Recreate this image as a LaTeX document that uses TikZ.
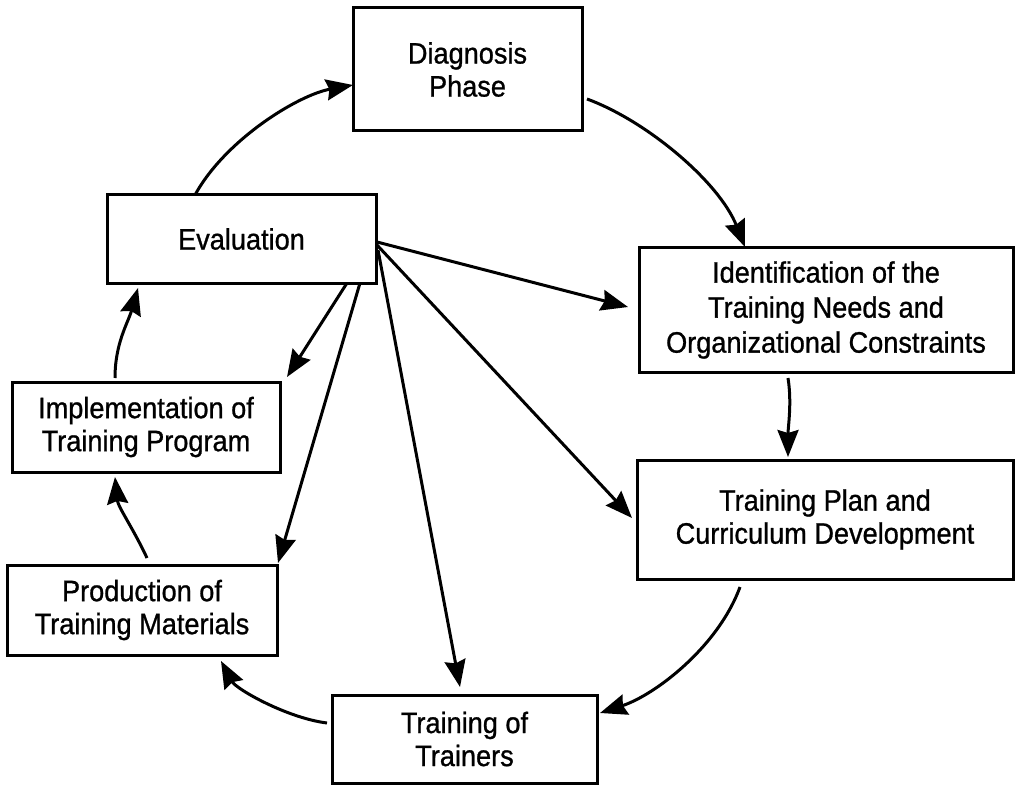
\documentclass[tikz,border=0pt]{standalone}
\usepackage{fontspec}
\setmainfont{Liberation Sans}[FakeStretch=0.92,FakeBold=0.9]
\usetikzlibrary{arrows.meta,calc}
\begin{document}
\begin{tikzpicture}[x=1pt,y=-1pt,
  box/.style={draw, line width=3pt, inner sep=0pt, outer sep=0pt, align=center,
    font=\fontsize{29.5}{33}\selectfont},
  arr/.style={line width=3pt, -{Stealth[length=27pt,width=21pt,inset=3pt]}}]
\fill[white] (0,0) rectangle (1019,786);
\useasboundingbox (0,0) rectangle (1019,786);

\node[box, minimum width=229pt, minimum height=123pt] (diag) at (467.5,69.5) {Diagnosis\\Phase};
\node[box, minimum width=269pt, minimum height=88pt] (eval) at (241.5,239) {Evaluation};
\node[box, minimum width=374pt, minimum height=124pt, font=\fontsize{29.5}{35}\selectfont] (ident) at (826,310) {Identification of the\\Training Needs and\\Organizational Constraints};
\node[box, minimum width=376pt, minimum height=119pt] (plan) at (825,519.5) {Training Plan and\\Curriculum Development};
\node[box, minimum width=268pt, minimum height=90pt] (impl) at (146,427) {Implementation of\\Training Program};
\node[box, minimum width=270pt, minimum height=90pt] (prod) at (142,610) {Production of\\Training Materials};
\node[box, minimum width=265pt, minimum height=88pt] (train) at (464.5,739) {Training of\\Trainers};

% cycle
\draw[arr] ($(eval.north west)+(88,0)$) .. controls +(30,-55) and +(-55,10) .. ($(diag.north west)+(0,77)$);
\draw[arr] ($(diag.north east)+(5,91)$) .. controls +(60,22) and +(-26,-65) .. ($(ident.north west)+(106,-1)$);
\draw[arr] ($(ident.south west)+(149,6)$) .. controls +(4,25) and +(0,-30) .. ($(plan.north west)+(151,-3)$);
\draw[arr] ($(plan.south west)+(103,8)$) .. controls +(-22,60) and +(55,-18) .. ($(train.north east)+(3,18)$);
\draw[arr] ($(train.north west)+(-5,28)$) .. controls +(-40,-5) and +(15,28) .. ($(prod.south west)+(214,6)$);
\draw[arr] ($(prod.north west)+(140,-7)$) .. controls +(-14,-30) and +(3,30) .. ($(impl.south west)+(103,5)$);
\draw[arr] ($(impl.north west)+(103,-4)$) .. controls +(0,-35) and +(-10,35) .. ($(eval.south west)+(31,5)$);

% evaluation feedback
\draw[arr] ($(eval.north east)+(1,47)$) -- ($(ident.north west)+(-11,59)$);
\draw[arr] ($(eval.north east)+(1,50)$) -- ($(plan.north west)+(-5,58)$);
\draw[arr] ($(eval.north east)+(2,55)$) -- ($(train.north west)+(128,-8)$);
\draw[arr] ($(eval.south west)+(240,0)$) -- ($(impl.north east)+(7,-5)$);
\draw[arr] ($(eval.south west)+(253,0)$) -- ($(prod.north east)+(1,-2)$);
\end{tikzpicture}
\end{document}
